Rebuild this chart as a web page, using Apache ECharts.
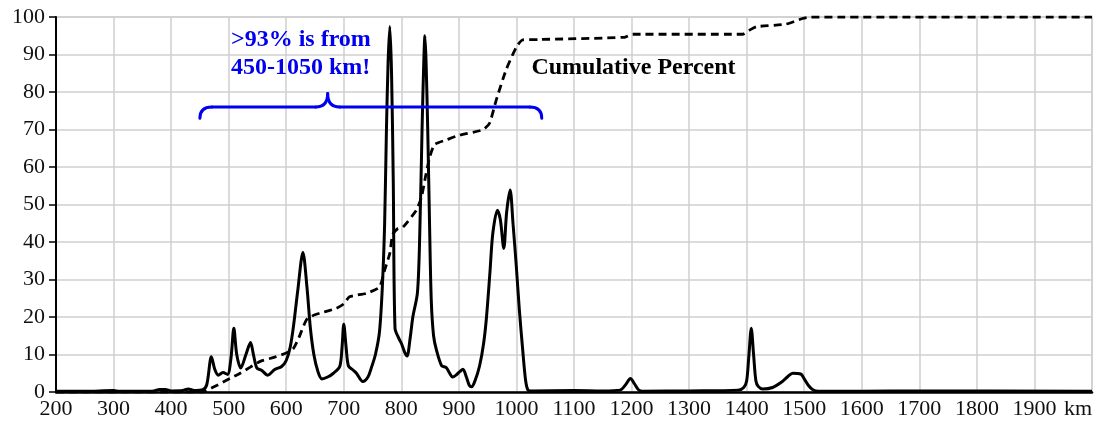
<!DOCTYPE html>
<html>
<head>
<meta charset="utf-8">
<script src="https://cdn.jsdelivr.net/npm/echarts@6/dist/echarts.min.js"></script>
<style>
  html, body { margin: 0; padding: 0; background: #fff; }
  #chart { width: 1098px; height: 423px; }
</style>
</head>
<body>
<div id="chart"></div>
<script>
// Altitude distribution (km) with its cumulative percentage
const distanceKm = [
  200, 250, 300, 310, 350, 370, 380, 390, 400, 420, 430, 440, 455, 462, 470, 476, 482, 490, 498,
  504, 509, 514, 521, 530, 538, 543, 549, 557, 568, 580, 592, 600, 607, 613, 620, 629, 636, 642,
  648, 655, 662, 672, 682, 693, 697, 700, 704, 708, 715, 722, 733, 742, 748, 755, 762, 767, 771,
  774, 777, 780, 783, 786, 789, 795, 800, 806, 810, 815, 820, 828, 832, 836, 839, 841, 843, 846,
  849, 852, 856, 861, 870, 878, 884, 889, 895, 902, 907, 913, 918, 922, 928, 936, 943, 948, 954,
  959, 967, 972, 978, 983, 989, 994, 1000, 1005, 1011, 1016, 1020, 1025, 1100, 1150, 1180, 1190,
  1198, 1205, 1212, 1219, 1300, 1385, 1395, 1400, 1404, 1408, 1412, 1416, 1420, 1428, 1445, 1462,
  1472, 1480, 1494, 1500, 1507, 1515, 1525, 1600, 1700, 2000
];
const density = [
  0.2, 0.2, 0.4, 0.2, 0.2, 0.3, 0.7, 0.7, 0.3, 0.4, 0.8, 0.4, 0.6, 2, 9.4, 6, 4.5, 5.2, 4.7,
  9, 17, 10, 6.4, 10, 13.2, 10, 6.4, 5.8, 4.5, 6, 6.8, 8.4, 12, 18, 27, 37.2, 28, 17,
  10, 5.5, 3.5, 4, 5, 6.8, 12, 18.1, 12, 7, 6, 5, 2.8, 4, 6.5, 10, 16, 28, 45,
  69, 88, 97.5, 85, 56, 17, 14.5, 13, 10.5, 9.6, 14, 20, 26.5, 42, 70, 88, 95, 88, 69,
  45, 24.5, 15, 11.2, 7, 6.5, 5, 4, 4.5, 5.5, 6.1, 4, 1.8, 1.4, 3, 7, 13, 20, 32,
  42.4, 48.5, 46, 38.3, 48, 53.9, 45, 33, 22, 11, 3, 0.5, 0.3, 0.4, 0.3, 0.5, 2,
  3.6, 2.2, 0.6, 0.2, 0.3, 0.5, 1.2, 3, 10, 17, 10, 3, 1.5, 0.8, 1.2, 2.8,
  4.2, 5, 4.8, 3.5, 1.8, 0.6, 0.2, 0.2, 0.3, 0.2
];

const cumKm = [
  200, 455, 460, 480, 497, 520, 554, 580, 600, 612, 622, 635, 648, 658, 687, 700, 710, 739, 762,
  771, 780, 785, 794, 803, 826, 835, 843, 850, 858, 878, 901, 941, 953, 965, 982, 1000, 1011,
  1040, 1188, 1202, 1393, 1405, 1417, 1468, 1497, 1510, 2000
];
const cumPercent = [
  0, 0, 0.3, 1.8, 3.2, 5, 8.1, 9.3, 10.4, 11.5, 14.5, 19.2, 20.5, 21, 22.3, 23.5, 25.4, 26.3, 28,
  32.5, 37, 42, 43.6, 44, 48.5, 52, 58.2, 63, 66, 67.2, 68.5, 69.9, 71.6, 77.9, 85.9, 92, 93.9,
  94, 94.6, 95.4, 95.4, 96.5, 97.4, 98.1, 99.6, 100, 100
];

const xTicks = [200, 300, 400, 500, 600, 700, 800, 900, 1000, 1100, 1200, 1300, 1400, 1500,
                1600, 1700, 1800, 1900, 2000];
const yTicks = [0, 10, 20, 30, 40, 50, 60, 70, 80, 90, 100];

const noteText = '>93% is from\n450-1050 km!';
const cumLabel = 'Cumulative Percent';
const braceRange = [450, 1050];

const FONT = '"Liberation Serif", "DejaVu Serif", serif';

const chart = echarts.init(document.getElementById('chart'), null, { renderer: 'canvas' });

chart.setOption({
  animation: false,
  backgroundColor: '#ffffff',
  grid: { left: 56, right: 6, top: 17, bottom: 31, containLabel: false,
          show: true, borderColor: '#cfcfcf', borderWidth: 1.5 },
  xAxis: {
    type: 'value',
    min: xTicks[0], max: xTicks[xTicks.length - 1], interval: 100,
    axisLine: { show: true, onZero: false, lineStyle: { color: '#000', width: 2.5 } },
    axisTick: { show: false },
    splitLine: { show: true, lineStyle: { color: '#cfcfcf', width: 1.5 } },
    axisLabel: {
      color: '#111', fontFamily: FONT, fontSize: 22, margin: 6,
      alignMaxLabel: 'right',
      formatter: v => (v === 2000 ? 'km' : String(v))
    }
  },
  yAxis: {
    type: 'value',
    min: yTicks[0], max: yTicks[yTicks.length - 1], interval: 10,
    axisLine: { show: true, lineStyle: { color: '#000', width: 2 } },
    axisTick: { show: true, length: 7, lineStyle: { color: '#000', width: 1.5 } },
    splitLine: { show: true, lineStyle: { color: '#cfcfcf', width: 1.5 } },
    axisLabel: { color: '#111', fontFamily: FONT, fontSize: 22, margin: 11 }
  },
  series: [
    {
      name: 'Distribution',
      type: 'line',
      data: distanceKm.map((k, i) => [k, density[i]]),
      showSymbol: false,
      smooth: 0.3,
      lineStyle: { color: '#000', width: 3 },
      z: 3
    },
    {
      name: cumLabel,
      type: 'line',
      data: cumKm.map((k, i) => [k, cumPercent[i]]),
      showSymbol: false,
      smooth: 0.2,
      lineStyle: { color: '#000', width: 2.8, type: [8, 5] },
      z: 2
    }
  ]
});

// annotations placed in data space
function px(k, v) { return chart.convertToPixel({ gridIndex: 0 }, [k, v]); }

const left = px(braceRange[0], 76);
const right = px(braceRange[1] - 6, 76);
const tip = px(672, 79.6);
const endY = px(braceRange[0], 73)[1];
const y = left[1];
const r = 12;
const braceStyle = { fill: null, stroke: '#0000ee', lineWidth: 3, lineCap: 'round' };

function curve(x1, y1, cx, cy, x2, y2) {
  return { type: 'bezierCurve', shape: { x1: x1, y1: y1, cpx1: cx, cpy1: cy, x2: x2, y2: y2 },
           style: braceStyle, z: 10 };
}
function seg(x1, y1, x2, y2) {
  return { type: 'line', shape: { x1: x1, y1: y1, x2: x2, y2: y2 }, style: braceStyle, z: 10 };
}

const notePos = px(504, 97.6);
const cumPos = px(1026, 86.4);

chart.setOption({
  graphic: [
    curve(left[0], endY, left[0], y, left[0] + r, y),
    seg(left[0] + r, y, tip[0] - r, y),
    curve(tip[0] - r, y, tip[0], y, tip[0], tip[1]),
    curve(tip[0], tip[1], tip[0], y, tip[0] + r, y),
    seg(tip[0] + r, y, right[0] - r, y),
    curve(right[0] - r, y, right[0], y, right[0], endY),
    {
      type: 'text',
      x: notePos[0], y: notePos[1],
      style: {
        text: noteText, fill: '#0000ee', fontFamily: FONT, fontWeight: 'bold',
        fontSize: 24, lineHeight: 28, align: 'left', verticalAlign: 'top'
      },
      z: 10
    },
    {
      type: 'text',
      x: cumPos[0], y: cumPos[1],
      style: {
        text: cumLabel, fill: '#000', fontFamily: FONT, fontWeight: 'bold',
        fontSize: 24, align: 'left', verticalAlign: 'middle'
      },
      z: 10
    }
  ]
});
</script>
</body>
</html>
